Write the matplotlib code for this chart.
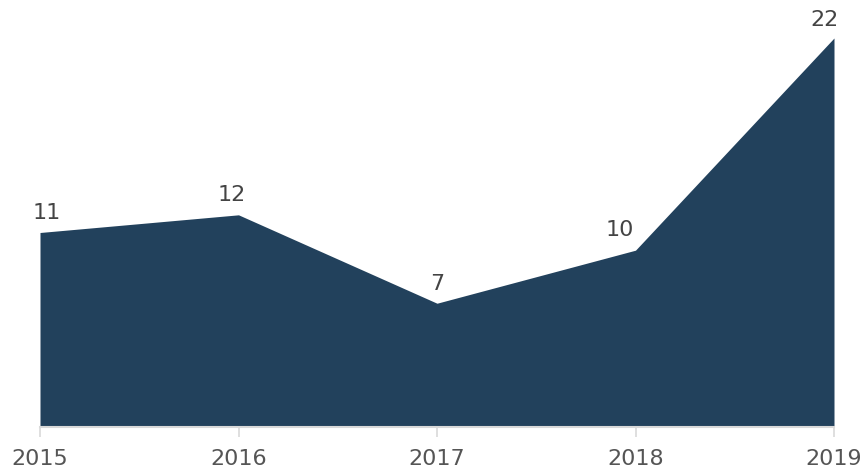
import matplotlib.pyplot as plt

years = ["2015", "2016", "2017", "2018", "2019"]
values = [11, 12, 7, 10, 22]

fill_color = "#22415c"

fig = plt.figure(figsize=(8.65, 4.76), dpi=100)
ax = fig.add_axes([40 / 865, 49 / 476, 794 / 865, 389 / 476])

x = list(range(len(years)))
ax.fill_between(x, values, 0, color=fill_color, linewidth=0)

# label offsets in points (dx, dy) relative to each point
offsets = [(5, 7), (-5, 7), (0, 7), (-11.5, 7), (-7, 6)]
for xi, v, (dx, dy) in zip(x, values, offsets):
    ax.annotate(str(v), (xi, v), xytext=(dx, dy), textcoords="offset points",
                ha="center", va="bottom", fontsize=16, color="#444444")

ax.set_xlim(0, len(years) - 1)
ax.set_ylim(0, 22)
ax.set_xticks(x)
ax.set_xticklabels(years, fontsize=16, color="#555555")
ax.set_yticks([])
for side in ["left", "right", "top"]:
    ax.spines[side].set_visible(False)
ax.spines["bottom"].set_color("#d9d9d9")
ax.spines["bottom"].set_linewidth(1.5)
ax.tick_params(axis="x", colors="#d9d9d9", length=7, width=1.2, pad=9,
               labelcolor="#555555")
for lbl in ax.get_xticklabels():
    lbl.set_clip_on(False)

fig.savefig("out.png", dpi=100)
